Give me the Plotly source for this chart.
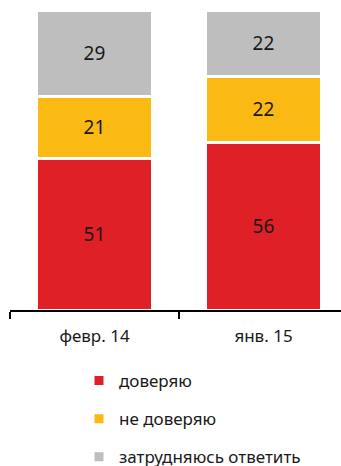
import plotly.graph_objects as go

categories = ["февр. 14", "янв. 15"]
series_names = ["доверяю", "не доверяю", "затрудняюсь ответить"]
trust = [51, 56]
distrust = [21, 22]
undecided = [29, 22]
colors = ["#E02027", "#FBB913", "#BEBEBE"]

fig = go.Figure()
for name, vals, col in zip(series_names, [trust, distrust, undecided], colors):
    fig.add_trace(go.Bar(
        x=categories, y=vals, name=name, text=vals,
        texttemplate="%{text}", textposition="inside", insidetextanchor="middle",
        textfont=dict(color="#1a1a1a", size=19, family="Noto Sans"),
        marker=dict(color=col, line=dict(color="white", width=3)),
        legendgroup=name, hoverinfo="skip", cliponaxis=False,
    ))

fig.update_layout(
    width=341, height=466,
    margin=dict(l=10, r=0, t=10, b=156, autoexpand=False),
    barmode="stack", barnorm="percent", bargap=0.31,
    plot_bgcolor="white", paper_bgcolor="white",
    font=dict(family="Noto Sans", color="#1a1a1a"),
    showlegend=True,
    legend=dict(
        orientation="v", traceorder="grouped", tracegroupgap=13,
        x=79 / 341, xref="container", xanchor="left",
        y=1 - 363 / 466, yref="container", yanchor="top",
        font=dict(size=17, family="Noto Sans", color="#1a1a1a"),
        bgcolor="rgba(0,0,0,0)",
    ),
    uniformtext=dict(mode=False),
)
fig.update_xaxes(
    type="category", range=[-0.5, 1.4586], showline=True, linecolor="black", linewidth=1.5,
    ticks="outside", tickson="boundaries", ticklen=7, tickcolor="black", tickwidth=1.5,
    tickfont=dict(size=17, family="Noto Sans", color="#1a1a1a"), showgrid=False,
    tickangle=0, automargin=False, ticklabelstandoff=10,
)
fig.update_yaxes(range=[0, 100], visible=False, showgrid=False, automargin=False)

fig.write_html("out.html", config={"displayModeBar": False},
               post_script="document.body.style.margin='0';")
